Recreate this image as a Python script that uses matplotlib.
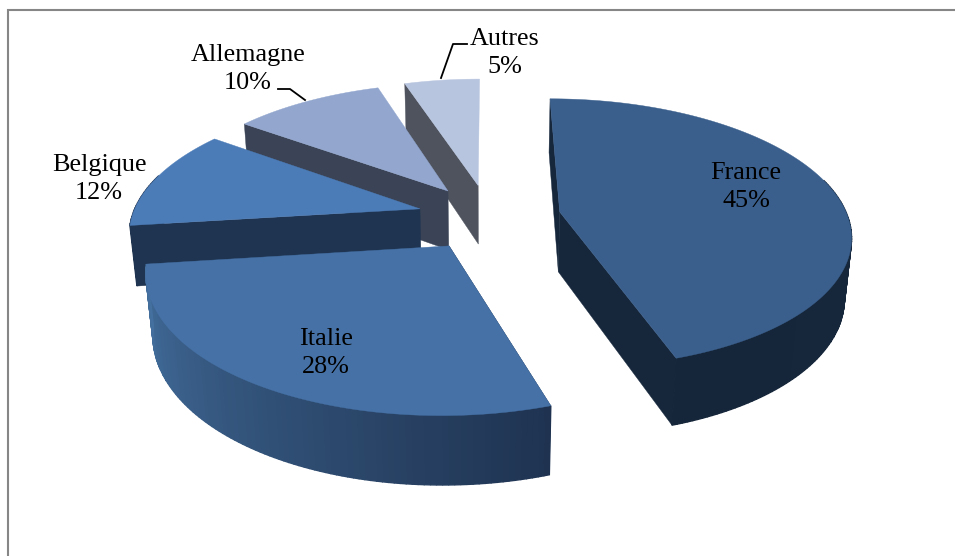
"""
Exploded 3D pie: share per country, drawn as projected polygons.
"""
import numpy as np
import matplotlib
matplotlib.use('Agg')
import matplotlib.pyplot as plt
from matplotlib.colors import to_rgb
from matplotlib.patches import Polygon

countries = ['France', 'Italie', 'Belgique', 'Allemagne', 'Autres']
shares = [45, 28, 12, 10, 5]

TOP_COLORS = ['#3A5F8C', '#4571A6', '#4C7CB8', '#92A6CE', '#B8C5DF']
WALL_COLORS = ['#16273C', '#1F3351', '#1F3450', '#3A4456', '#4E535E']
# outer wall colour at the start and end angle of each slice
RIM_COLORS = [('#17283D', '#16263A'), ('#1F3351', '#44709F'), ('#1F3450', '#1F3450'),
              ('#3A4456', '#3A4456'), ('#4E535E', '#4E535E')]
LABEL_POS = [(746, 187), (326, 353), (99, 179), (248, 69), (505, 53)]
LEADERS = {'Allemagne': ([278, 290, 305], [89, 89, 100]),
           'Autres': ([467, 453, 441], [44, 44, 78])}

CX, CY = 489, 217
RADIUS = 288
EXPLODE = 0.25
HEIGHT = 0.24
TILT = np.arcsin(0.46)
CAMERA = 5.6


def project(a, b, z):
    """a: right, b: away from viewer, z: up. Returns pixel coordinates."""
    up = b * np.sin(TILT) + z * np.cos(TILT)
    depth = b * np.cos(TILT) - z * np.sin(TILT)
    scale = CAMERA / (CAMERA + depth)
    return CX + RADIUS * a * scale, CY - RADIUS * up * scale


def blend(c1, c2, t):
    c1, c2 = np.array(to_rgb(c1)), np.array(to_rgb(c2))
    return tuple(c1 + (c2 - c1) * t)


def draw_slice(ax, start, end, top, wall, rim):
    mid = np.radians((start + end) / 2)
    ox, oy = EXPLODE * np.sin(mid), EXPLODE * np.cos(mid)
    degrees = np.linspace(start, end, int(end - start) + 2)
    angles = np.radians(degrees)
    rim_a = ox + np.sin(angles)
    rim_b = oy + np.cos(angles)

    # radial walls first, the rim and the top cover what should be hidden
    # the end wall of a slice on the left half faces away from the viewer
    wall_ids = (0, -1) if end <= 180 else (0,)
    for i in wall_ids:
        xs = [ox, rim_a[i], rim_a[i], ox]
        ys = [oy, rim_b[i], rim_b[i], oy]
        zs = [0, 0, -HEIGHT, -HEIGHT]
        px, py = project(np.array(xs), np.array(ys), np.array(zs))
        ax.add_patch(Polygon(np.c_[px, py], fc=wall, ec=wall, lw=0.3))

    # outer wall as small quads to get the gradient, the back of the rim is not seen
    tx, ty = project(rim_a, rim_b, 0.0)
    bx, by = project(rim_a, rim_b, -HEIGHT)
    for i in range(len(angles) - 1):
        if not 75 < degrees[i] < 285:
            continue
        quad = [(tx[i], ty[i]), (tx[i + 1], ty[i + 1]), (bx[i + 1], by[i + 1]), (bx[i], by[i])]
        color = blend(rim[0], rim[1], i / (len(angles) - 2))
        ax.add_patch(Polygon(quad, fc=color, ec=color, lw=1.0))

    cx0, cy0 = project(ox, oy, 0.0)
    ax.add_patch(Polygon(np.c_[np.r_[cx0, tx], np.r_[cy0, ty]], fc=top, ec=top, lw=0.3))


fig = plt.figure(figsize=(9.55, 5.56), dpi=100)
ax = fig.add_axes([0, 0, 1, 1])
ax.set_xlim(0, 955)
ax.set_ylim(556, 0)
ax.axis('off')

# chart frame, right and bottom sides are cut off in the original
ax.plot([8, 8, 955], [556, 10, 10], color='#868686', lw=1.5, solid_joinstyle='miter')

edges = np.cumsum([0] + shares) * 3.6
# back slices first, Italie last because it overlaps the others
for i in [4, 3, 2, 0, 1]:
    draw_slice(ax, edges[i], edges[i + 1], TOP_COLORS[i], WALL_COLORS[i], RIM_COLORS[i])

for name, share, (x, y) in zip(countries, shares, LABEL_POS):
    ax.text(x, y, f'{name}\n{share}%', ha='center', va='center', color='black',
            family='Liberation Serif', fontsize=18.8, linespacing=1.4)

for xs, ys in LEADERS.values():
    ax.plot(xs, ys, color='black', lw=1.3)

fig.savefig('out.png', dpi=100)
